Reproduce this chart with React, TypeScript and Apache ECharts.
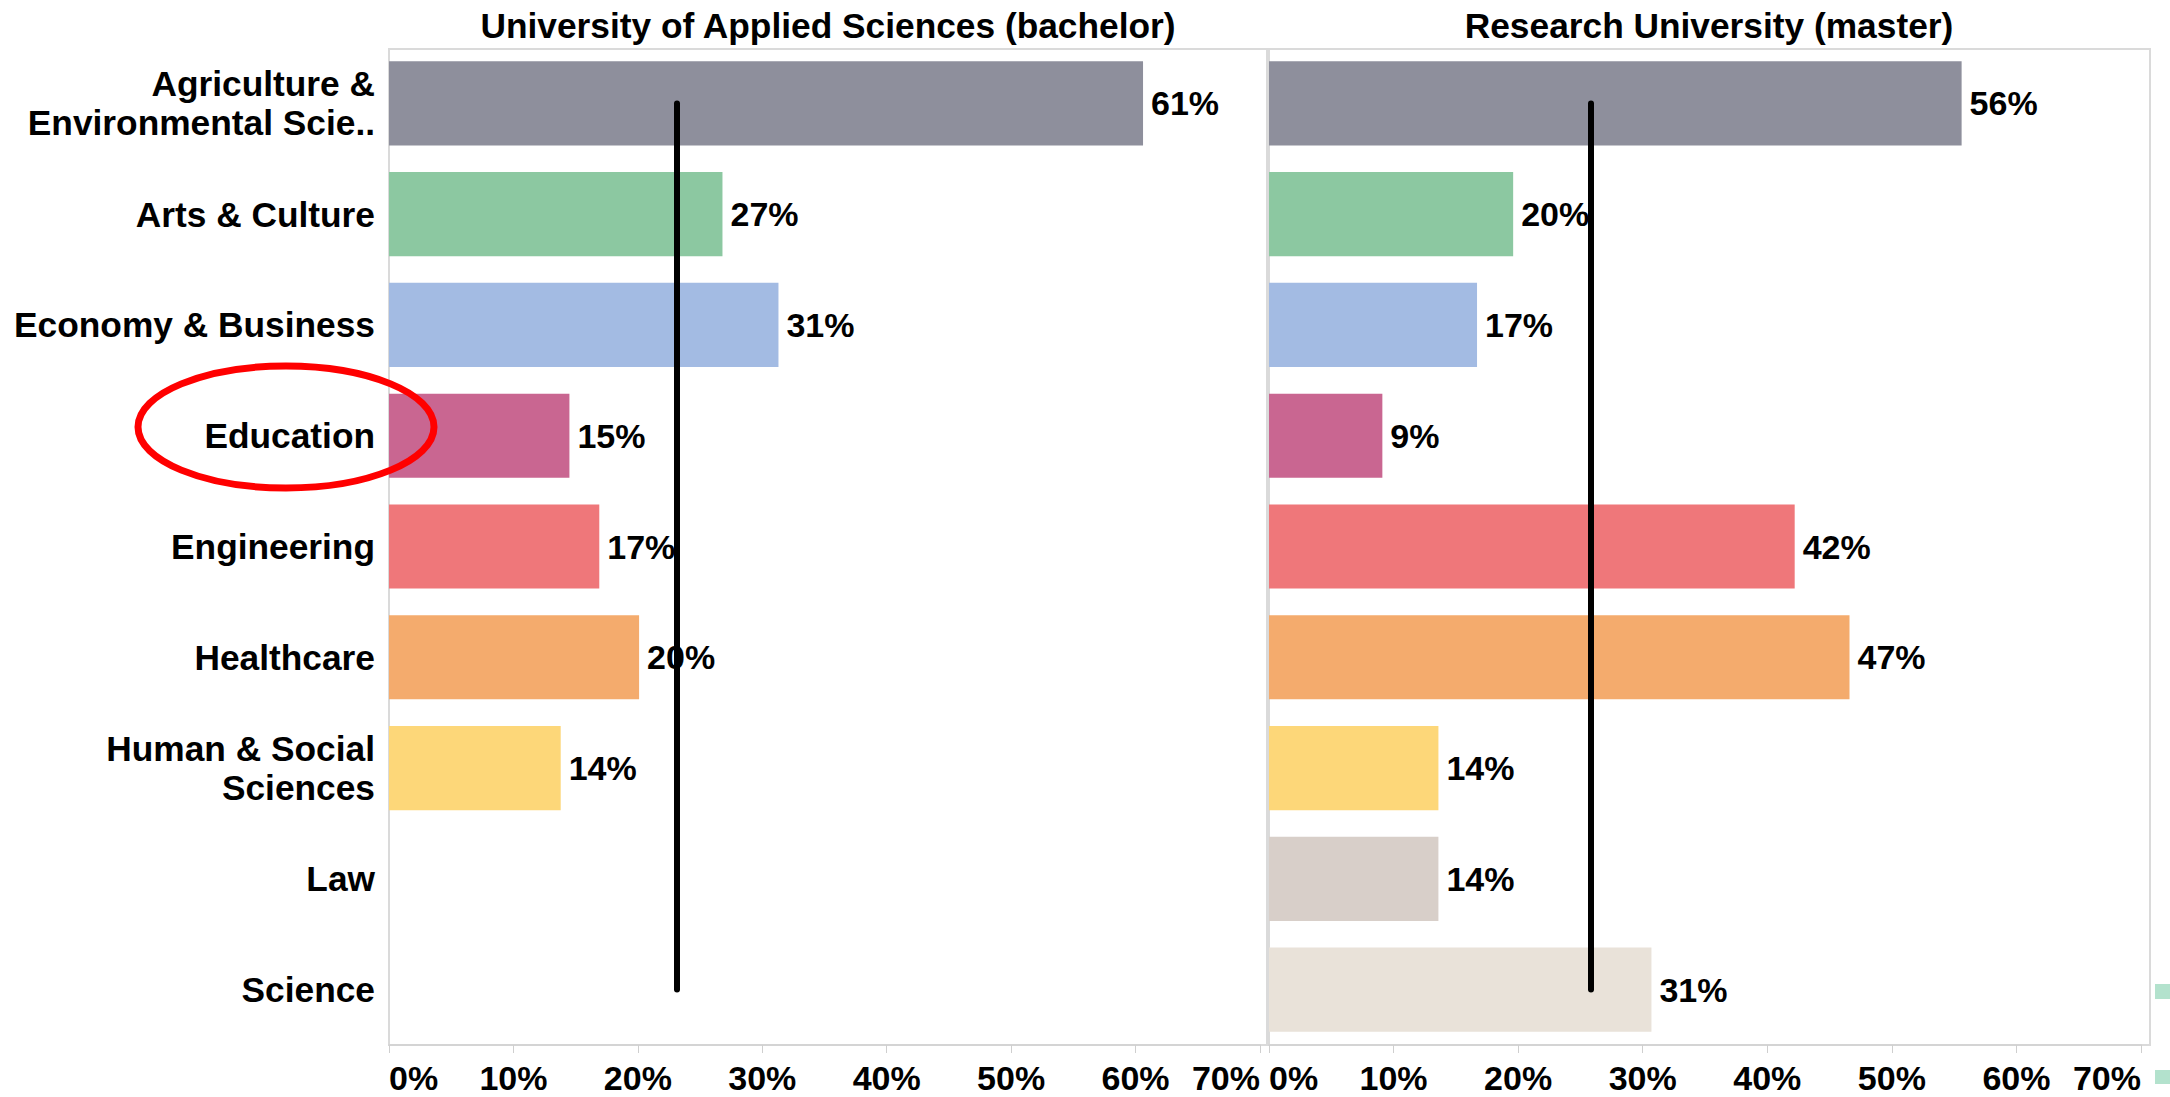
import React, { useEffect, useRef } from 'react';
import * as echarts from 'echarts';

const categories = [
  'Agriculture &\nEnvironmental Scie..',
  'Arts & Culture',
  'Economy & Business',
  'Education',
  'Engineering',
  'Healthcare',
  'Human & Social\nSciences',
  'Law',
  'Science',
];
const bachelorValues: (number | null)[] = [60.6, 26.8, 31.3, 14.5, 16.9, 20.1, 13.8, null, null];
const masterValues: (number | null)[] = [55.6, 19.6, 16.7, 9.1, 42.2, 46.6, 13.6, 13.6, 30.7];
const bachelorAverage = 23.1;
const masterAverage = 25.8;
const panelTitles = ['University of Applied Sciences (bachelor)', 'Research University (master)'];
const categoryColors = [
  '#8E8F9C',
  '#8CC8A1',
  '#A3BBE3',
  '#C96691',
  '#EF777A',
  '#F4AB6D',
  '#FDD779',
  '#D8CFC9',
  '#E9E2D9',
];
const axisMax = 70;
const axisInterval = 10;

const FONT = '"Liberation Sans", Arial, sans-serif';

export default function App() {
  const ref = useRef<HTMLDivElement>(null);
  useEffect(() => {
    const chart = echarts.init(ref.current!, null, { renderer: 'svg' });
    const textBase = { fontSize: 34, fontWeight: 'bold' as const, color: '#000', fontFamily: FONT };
    const textLarge = { ...textBase, fontSize: 35.3 };

    const xAxisFor = (gridIndex: number) => ({
      type: 'value',
      gridIndex,
      min: 0,
      max: axisMax,
      interval: axisInterval,
      axisLine: { show: true, lineStyle: { color: '#d4d4d4', width: 2 } },
      axisTick: { show: true, length: 8, lineStyle: { color: '#cfcfcf', width: 1 } },
      splitLine: { show: false },
      axisLabel: {
        ...textBase,
        formatter: '{value}%',
        margin: 16,
        alignMinLabel: 'left',
        alignMaxLabel: 'right',
      },
    });

    const seriesFor = (idx: number, values: (number | null)[], avg: number) => ({
      type: 'bar',
      xAxisIndex: idx,
      yAxisIndex: idx,
      barWidth: '76%',
      silent: true,
      data: values.map((v, i) => ({ value: v, itemStyle: { color: categoryColors[i] } })),
      label: {
        show: true,
        position: 'right',
        distance: 8,
        ...textBase,
        formatter: (p: any) => (p.value == null ? '' : Math.round(p.value) + '%'),
      },
      markLine: {
        silent: true,
        symbol: ['none', 'none'],
        label: { show: false },
        lineStyle: { color: '#000', width: 6, type: 'solid', cap: 'round' },
        emphasis: { disabled: true },
        data: [[{ coord: [avg, categories[0]] }, { coord: [avg, categories[categories.length - 1]] }]],
      },
    });

    const option: any = {
      animation: false,
      backgroundColor: '#fff',
      title: [
        { text: panelTitles[0], left: 828, top: 8, textAlign: 'center', padding: 0, textStyle: { ...textLarge } },
        { text: panelTitles[1], left: 1709, top: 8, textAlign: 'center', padding: 0, textStyle: { ...textLarge } },
      ],
      grid: [
        { left: 389, top: 48, width: 871, height: 997 },
        { left: 1269, top: 48, width: 872, height: 997 },
      ],
      xAxis: [xAxisFor(0), xAxisFor(1)],
      yAxis: [
        {
          type: 'category',
          gridIndex: 0,
          data: categories,
          inverse: true,
          axisLine: { show: false },
          axisTick: { show: false },
          axisLabel: { ...textLarge, margin: 14, lineHeight: 39, align: 'right', padding: [0, 0, 3, 0] },
        },
        {
          type: 'category',
          gridIndex: 1,
          data: categories,
          inverse: true,
          axisLine: { show: false },
          axisTick: { show: false },
          axisLabel: { show: false },
        },
      ],
      series: [seriesFor(0, bachelorValues, bachelorAverage), seriesFor(1, masterValues, masterAverage)],
      graphic: [
        {
          type: 'rect',
          silent: true,
          z: 0,
          shape: { x: 389, y: 49, width: 878, height: 996 },
          style: { fill: 'none', stroke: '#dadada', lineWidth: 2 },
        },
        {
          type: 'rect',
          silent: true,
          z: 0,
          shape: { x: 1269, y: 49, width: 881, height: 996 },
          style: { fill: 'none', stroke: '#dadada', lineWidth: 2 },
        },
        {
          type: 'ellipse',
          silent: true,
          z: 100,
          shape: { cx: 286, cy: 427, rx: 148, ry: 61 },
          style: { fill: 'none', stroke: '#ff0000', lineWidth: 7 },
        },
        {
          type: 'rect',
          silent: true,
          shape: { x: 2155, y: 984, width: 15, height: 15 },
          style: { fill: '#b3e2cd' },
        },
        {
          type: 'rect',
          silent: true,
          shape: { x: 2155, y: 1070, width: 15, height: 14 },
          style: { fill: '#b3e2cd' },
        },
      ],
    };
    chart.setOption(option);
    return () => chart.dispose();
  }, []);
  return (
    <div
      ref={ref}
      style={{ position: 'fixed', left: 0, top: 0, width: 2170, height: 1097, background: '#fff' }}
    />
  );
}
